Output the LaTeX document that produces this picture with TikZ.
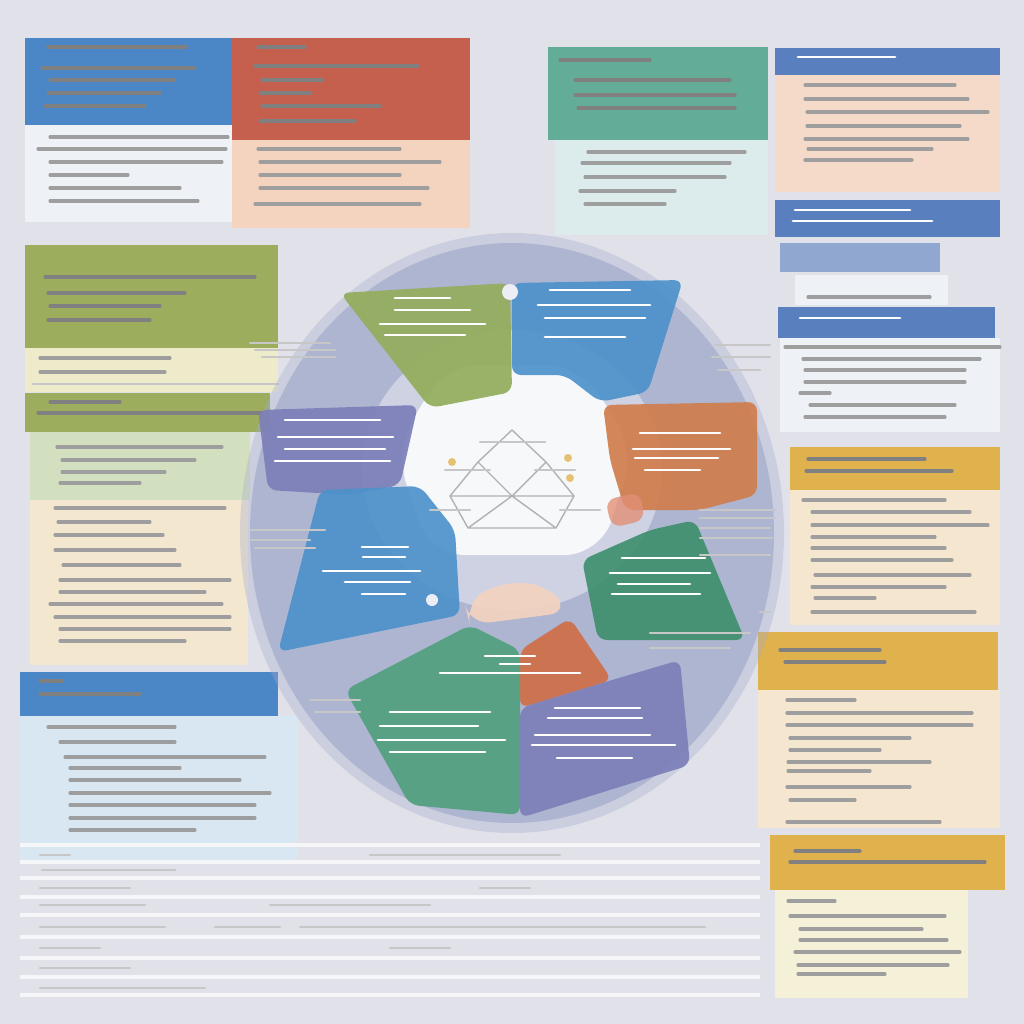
\documentclass[tikz,border=0pt]{standalone}
\usepackage{tikz}
\usetikzlibrary{calc}

\definecolor{bgGrey}{HTML}{E1E2E9}
\definecolor{hdBlue}{HTML}{4B87C6}
\definecolor{hdRed}{HTML}{C5604F}
\definecolor{hdTeal}{HTML}{62AC98}
\definecolor{hdSlate}{HTML}{5A7FBF}
\definecolor{hdYellow}{HTML}{E0B24D}
\definecolor{hdGreen}{HTML}{9CAD5D}
\definecolor{bdWhite}{HTML}{EEF1F6}
\definecolor{bdPeach}{HTML}{F4D3BF}
\definecolor{bdTeal}{HTML}{DCEBEB}
\definecolor{bdCream}{HTML}{F4E6CF}
\definecolor{bdLemon}{HTML}{F5F0D8}
\definecolor{bdOlive}{HTML}{EEEBCB}
\definecolor{bdMint}{HTML}{D3E0C0}
\definecolor{bdSky}{HTML}{D8E7F2}
\definecolor{wheel}{HTML}{A3ABCC}
\definecolor{segGreen}{HTML}{93AD5B}
\definecolor{segBlue}{HTML}{4D92CB}
\definecolor{segPurple}{HTML}{7C7FB9}
\definecolor{segOrange}{HTML}{D07D4C}
\definecolor{segPine}{HTML}{3F8F6E}
\definecolor{segRust}{HTML}{CF6F47}
\definecolor{segJade}{HTML}{52A07E}

\begin{document}
\begin{tikzpicture}[x=0.01cm, y=-0.01cm,
    txt/.style={line width=0.9pt, line cap=round},
    inkDark/.style={txt, black!50},
    inkBody/.style={txt, black!38},
    inkLight/.style={txt, white!80, line width=0.8pt},
    inkFaint/.style={txt, black!22, line width=0.7pt},
    seg/.style={rounded corners=2.5pt, opacity=0.92}]
    % Canvas
    \fill[bgGrey] (0,0) rectangle (1024,1024);
    \useasboundingbox (0,0) rectangle (1024,1024);

    % Top left cards
    \fill[bdWhite] (25,125) rectangle (232,222);
    \fill[hdBlue] (25,38) rectangle (232,125);
    \fill[bdPeach] (232,140) rectangle (470,228);
    \fill[hdRed] (232,38) rectangle (470,140);
    \foreach \y/\a/\b in {47/48/186, 68/42/195, 80/50/175, 93/48/160, 106/45/145}
        \draw[inkDark] (\a,\y) -- (\b,\y);
    \foreach \y/\a/\b in {137/50/228, 149/38/226, 162/50/222, 175/50/128, 188/50/180, 201/50/198}
        \draw[inkBody] (\a,\y) -- (\b,\y);
    \foreach \y/\a/\b in {47/258/305, 66/255/418, 80/262/322, 93/260/310, 106/262/380, 121/260/355}
        \draw[inkDark] (\a,\y) -- (\b,\y);
    \foreach \y/\a/\b in {149/258/400, 162/260/440, 175/260/400, 188/260/428, 204/255/420}
        \draw[inkBody] (\a,\y) -- (\b,\y);

    % Top right cards
    \fill[bdTeal] (555,140) rectangle (768,235);
    \fill[hdTeal] (548,47) rectangle (768,140);
    \foreach \y/\a/\b in {60/560/650, 80/575/730, 95/575/735, 108/578/735}
        \draw[inkDark] (\a,\y) -- (\b,\y);
    \foreach \y/\a/\b in {152/588/745, 163/582/730, 177/585/725, 191/580/675, 204/585/665}
        \draw[inkBody] (\a,\y) -- (\b,\y);
    \fill[bdPeach!85!white] (775,75) rectangle (1000,192);
    \fill[hdSlate] (775,48) rectangle (1000,75);
    \draw[inkLight] (798,57) -- (895,57);
    \foreach \y/\a/\b in {85/805/955, 99/805/968, 112/807/988, 126/807/960, 139/805/968, 149/808/932, 160/805/912}
        \draw[inkBody] (\a,\y) -- (\b,\y);
    \fill[hdSlate] (775,200) rectangle (1000,237);
    \draw[inkLight] (795,210) -- (910,210);
    \draw[inkLight] (793,221) -- (932,221);
    \fill[hdSlate!60!bgGrey] (780,243) rectangle (940,272);
    \fill[bdWhite] (795,275) rectangle (948,305);
    \draw[inkBody] (808,297) -- (930,297);

    % Right column
    \fill[bdWhite] (780,338) rectangle (1000,432);
    \fill[hdSlate] (778,307) rectangle (995,338);
    \draw[inkLight] (800,318) -- (900,318);
    \foreach \y/\a/\b in {347/785/1000, 359/803/980, 370/805/965, 382/805/965, 393/800/830, 405/810/955, 417/805/945}
        \draw[inkBody] (\a,\y) -- (\b,\y);
    \fill[bdCream] (790,490) rectangle (1000,625);
    \fill[hdYellow] (790,447) rectangle (1000,490);
    \foreach \y/\a/\b in {459/808/925, 471/806/952}
        \draw[inkDark] (\a,\y) -- (\b,\y);
    \foreach \y/\a/\b in {500/803/945, 512/812/970, 525/812/988, 537/812/935, 548/812/945, 560/812/952, 575/815/970, 587/812/945, 598/815/875, 612/812/975}
        \draw[inkBody] (\a,\y) -- (\b,\y);
    \fill[bdCream] (758,690) rectangle (1000,828);
    \fill[hdYellow] (758,632) rectangle (998,690);
    \foreach \y/\a/\b in {650/780/880, 662/785/885}
        \draw[inkDark] (\a,\y) -- (\b,\y);
    \foreach \y/\a/\b in {700/787/855, 713/787/972, 725/787/972, 738/790/910, 750/790/880, 762/788/930, 771/788/870, 787/787/910, 800/790/855, 822/787/940}
        \draw[inkBody] (\a,\y) -- (\b,\y);
    \fill[bdLemon] (775,890) rectangle (968,998);
    \fill[hdYellow] (770,835) rectangle (1005,890);
    \foreach \y/\a/\b in {851/795/860, 862/790/985}
        \draw[inkDark] (\a,\y) -- (\b,\y);
    \foreach \y/\a/\b in {901/788/835, 916/790/945, 929/800/922, 940/800/947, 952/795/960, 965/798/948, 974/798/885}
        \draw[inkBody] (\a,\y) -- (\b,\y);

    % Left column
    \fill[hdGreen] (25,245) rectangle (278,348);
    \fill[bdOlive] (25,348) rectangle (278,392);
    \fill[hdGreen] (25,393) rectangle (270,432);
    \fill[bdMint] (30,432) rectangle (250,500);
    \fill[bdCream!90!bdOlive] (30,500) rectangle (248,665);
    \foreach \y/\a/\b in {277/45/255, 293/48/185, 306/50/160, 320/48/150}
        \draw[inkDark] (\a,\y) -- (\b,\y);
    \foreach \y/\a/\b in {358/40/170, 372/40/165}
        \draw[inkBody] (\a,\y) -- (\b,\y);
    \draw[inkFaint] (33,384) -- (278,384);
    \foreach \y/\a/\b in {402/50/120, 413/38/262}
        \draw[inkDark] (\a,\y) -- (\b,\y);
    \foreach \y/\a/\b in {447/57/222, 460/62/195, 472/62/165, 483/60/140, 508/55/225, 522/58/150, 535/55/163, 550/55/175, 565/63/180, 580/60/230, 592/60/205, 604/50/222, 617/55/230, 629/60/230, 641/60/185}
        \draw[inkBody] (\a,\y) -- (\b,\y);
    \fill[bdSky] (20,716) rectangle (298,860);
    \fill[hdBlue] (20,672) rectangle (278,716);
    \foreach \y/\a/\b in {681/40/62, 694/40/140}
        \draw[inkDark] (\a,\y) -- (\b,\y);
    \foreach \y/\a/\b in {727/48/175, 742/60/175, 757/65/265, 768/70/180, 780/70/240, 793/70/270, 805/70/255, 818/70/255, 830/70/195}
        \draw[inkBody] (\a,\y) -- (\b,\y);

    % Bottom table
    \foreach \y in {845, 862, 878, 897, 915, 937, 958, 977, 995}
        \draw[white!70!bgGrey, line width=1.2pt] (20,\y) -- (760,\y);
    \foreach \y/\a/\b in {855/40/70, 855/370/560, 870/42/175, 888/40/130, 888/480/530, 905/40/145, 905/270/430, 927/40/165, 927/215/280, 927/300/705, 948/40/100, 948/390/450, 968/40/130, 988/40/205}
        \draw[inkFaint] (\a,\y) -- (\b,\y);

    % Wheel
    \fill[wheel, opacity=0.35] (512,533) ellipse (272 and 300);
    \fill[wheel, opacity=0.7] (512,533) ellipse (262 and 290);
    \fill[white, opacity=0.4] (512,470) ellipse (150 and 140);
    \fill[white, opacity=0.85, rounded corners=10pt] (445,365) -- (580,365) -- (635,450) -- (600,555) -- (430,555) -- (395,450) -- cycle;

    % Segments
    \fill[segGreen, seg] (340,293) -- (510,283) -- (512,392) -- (430,408) -- cycle;
    \fill[segBlue, seg] (512,283) -- (683,280) -- (648,392) -- (600,402) -- (565,375) -- (512,375) -- cycle;
    \fill[segPurple, seg] (258,410) -- (418,405) -- (400,485) -- (350,495) -- (268,490) -- cycle;
    \fill[segOrange, seg] (603,405) -- (757,402) -- (757,495) -- (700,510) -- (625,510) -- (610,460) -- cycle;
    \fill[segBlue, seg] (320,490) -- (420,486) -- (455,530) -- (460,615) -- (278,652) -- cycle;
    \fill[segPine, seg] (582,560) -- (650,530) -- (695,520) -- (745,640) -- (598,640) -- cycle;
    \fill[bdPeach, opacity=0.9, rounded corners=6pt] (465,605) -- (495,583) -- (545,583) -- (570,612) -- (470,625) -- cycle;
    \fill[segRust, seg] (520,650) -- (570,618) -- (612,680) -- (520,708) -- cycle;
    \fill[segJade, seg] (345,690) -- (470,625) -- (520,650) -- (520,815) -- (410,805) -- cycle;
    \fill[segPurple, seg] (520,708) -- (612,680) -- (680,660) -- (690,765) -- (520,818) -- cycle;
    \fill[segRust!60!pink, opacity=0.8, rounded corners=3pt] (605,500) -- (640,492) -- (645,520) -- (612,528) -- cycle;

    % Segment labels
    \foreach \y/\a/\b in {298/395/450, 310/395/470, 324/380/485, 335/385/465}
        \draw[inkLight] (\a,\y) -- (\b,\y);
    \foreach \y/\a/\b in {290/550/630, 305/538/650, 318/545/645, 337/545/625}
        \draw[inkLight] (\a,\y) -- (\b,\y);
    \foreach \y/\a/\b in {420/285/380, 437/278/393, 449/285/385, 461/275/390}
        \draw[inkLight] (\a,\y) -- (\b,\y);
    \foreach \y/\a/\b in {433/640/720, 449/633/730, 458/635/718, 470/645/700}
        \draw[inkLight] (\a,\y) -- (\b,\y);
    \foreach \y/\a/\b in {547/362/408, 557/363/405, 571/323/420, 582/345/410, 594/362/405}
        \draw[inkLight] (\a,\y) -- (\b,\y);
    \foreach \y/\a/\b in {558/622/705, 573/610/710, 584/618/690, 594/612/700}
        \draw[inkLight] (\a,\y) -- (\b,\y);
    \foreach \y/\a/\b in {656/485/535, 664/500/530, 673/440/580}
        \draw[inkLight] (\a,\y) -- (\b,\y);
    \foreach \y/\a/\b in {712/390/490, 726/380/478, 740/378/505, 752/390/485}
        \draw[inkLight] (\a,\y) -- (\b,\y);
    \foreach \y/\a/\b in {708/555/640, 718/548/642, 735/535/650, 745/532/675, 758/557/632}
        \draw[inkLight] (\a,\y) -- (\b,\y);

    % Side leader lines
    \foreach \y/\a/\b in {343/250/330, 350/255/335, 357/262/335, 530/250/325, 540/250/310, 548/255/315, 612/760/770, 633/650/750, 648/650/730, 700/310/360, 712/315/360}
        \draw[inkFaint] (\a,\y) -- (\b,\y);
    \foreach \y/\a/\b in {345/715/770, 357/712/770, 370/718/760, 510/700/775, 518/700/775, 528/700/770, 538/700/772, 555/700/770}
        \draw[inkFaint] (\a,\y) -- (\b,\y);

    % Centre network
    \coordinate (hubTop) at (512,430);
    \coordinate (hubL) at (478,462);
    \coordinate (hubR) at (546,462);
    \coordinate (hubLL) at (450,496);
    \coordinate (hubM) at (512,496);
    \coordinate (hubRR) at (574,496);
    \coordinate (hubBL) at (468,528);
    \coordinate (hubBR) at (556,528);
    \draw[black!30, line width=0.4pt] (hubTop) -- (hubL) -- (hubLL) -- (hubBL) -- (hubBR) -- (hubRR) -- (hubR) -- (hubTop)
        (hubL) -- (hubM) -- (hubR) (hubLL) -- (hubM) -- (hubRR) (hubM) -- (hubBL) (hubM) -- (hubBR);
    \foreach \y/\a/\b in {442/480/545, 470/445/490, 470/535/575, 510/430/470, 510/560/600}
        \draw[inkFaint] (\a,\y) -- (\b,\y);
    \fill[hdYellow!80] (452,462) circle (4);
    \fill[hdYellow!80] (568,458) circle (4);
    \fill[hdYellow!80] (570,478) circle (4);
    \fill[white!80!wheel] (510,292) circle (8);
    \fill[white!80!wheel] (432,600) circle (6);
\end{tikzpicture}
\end{document}
